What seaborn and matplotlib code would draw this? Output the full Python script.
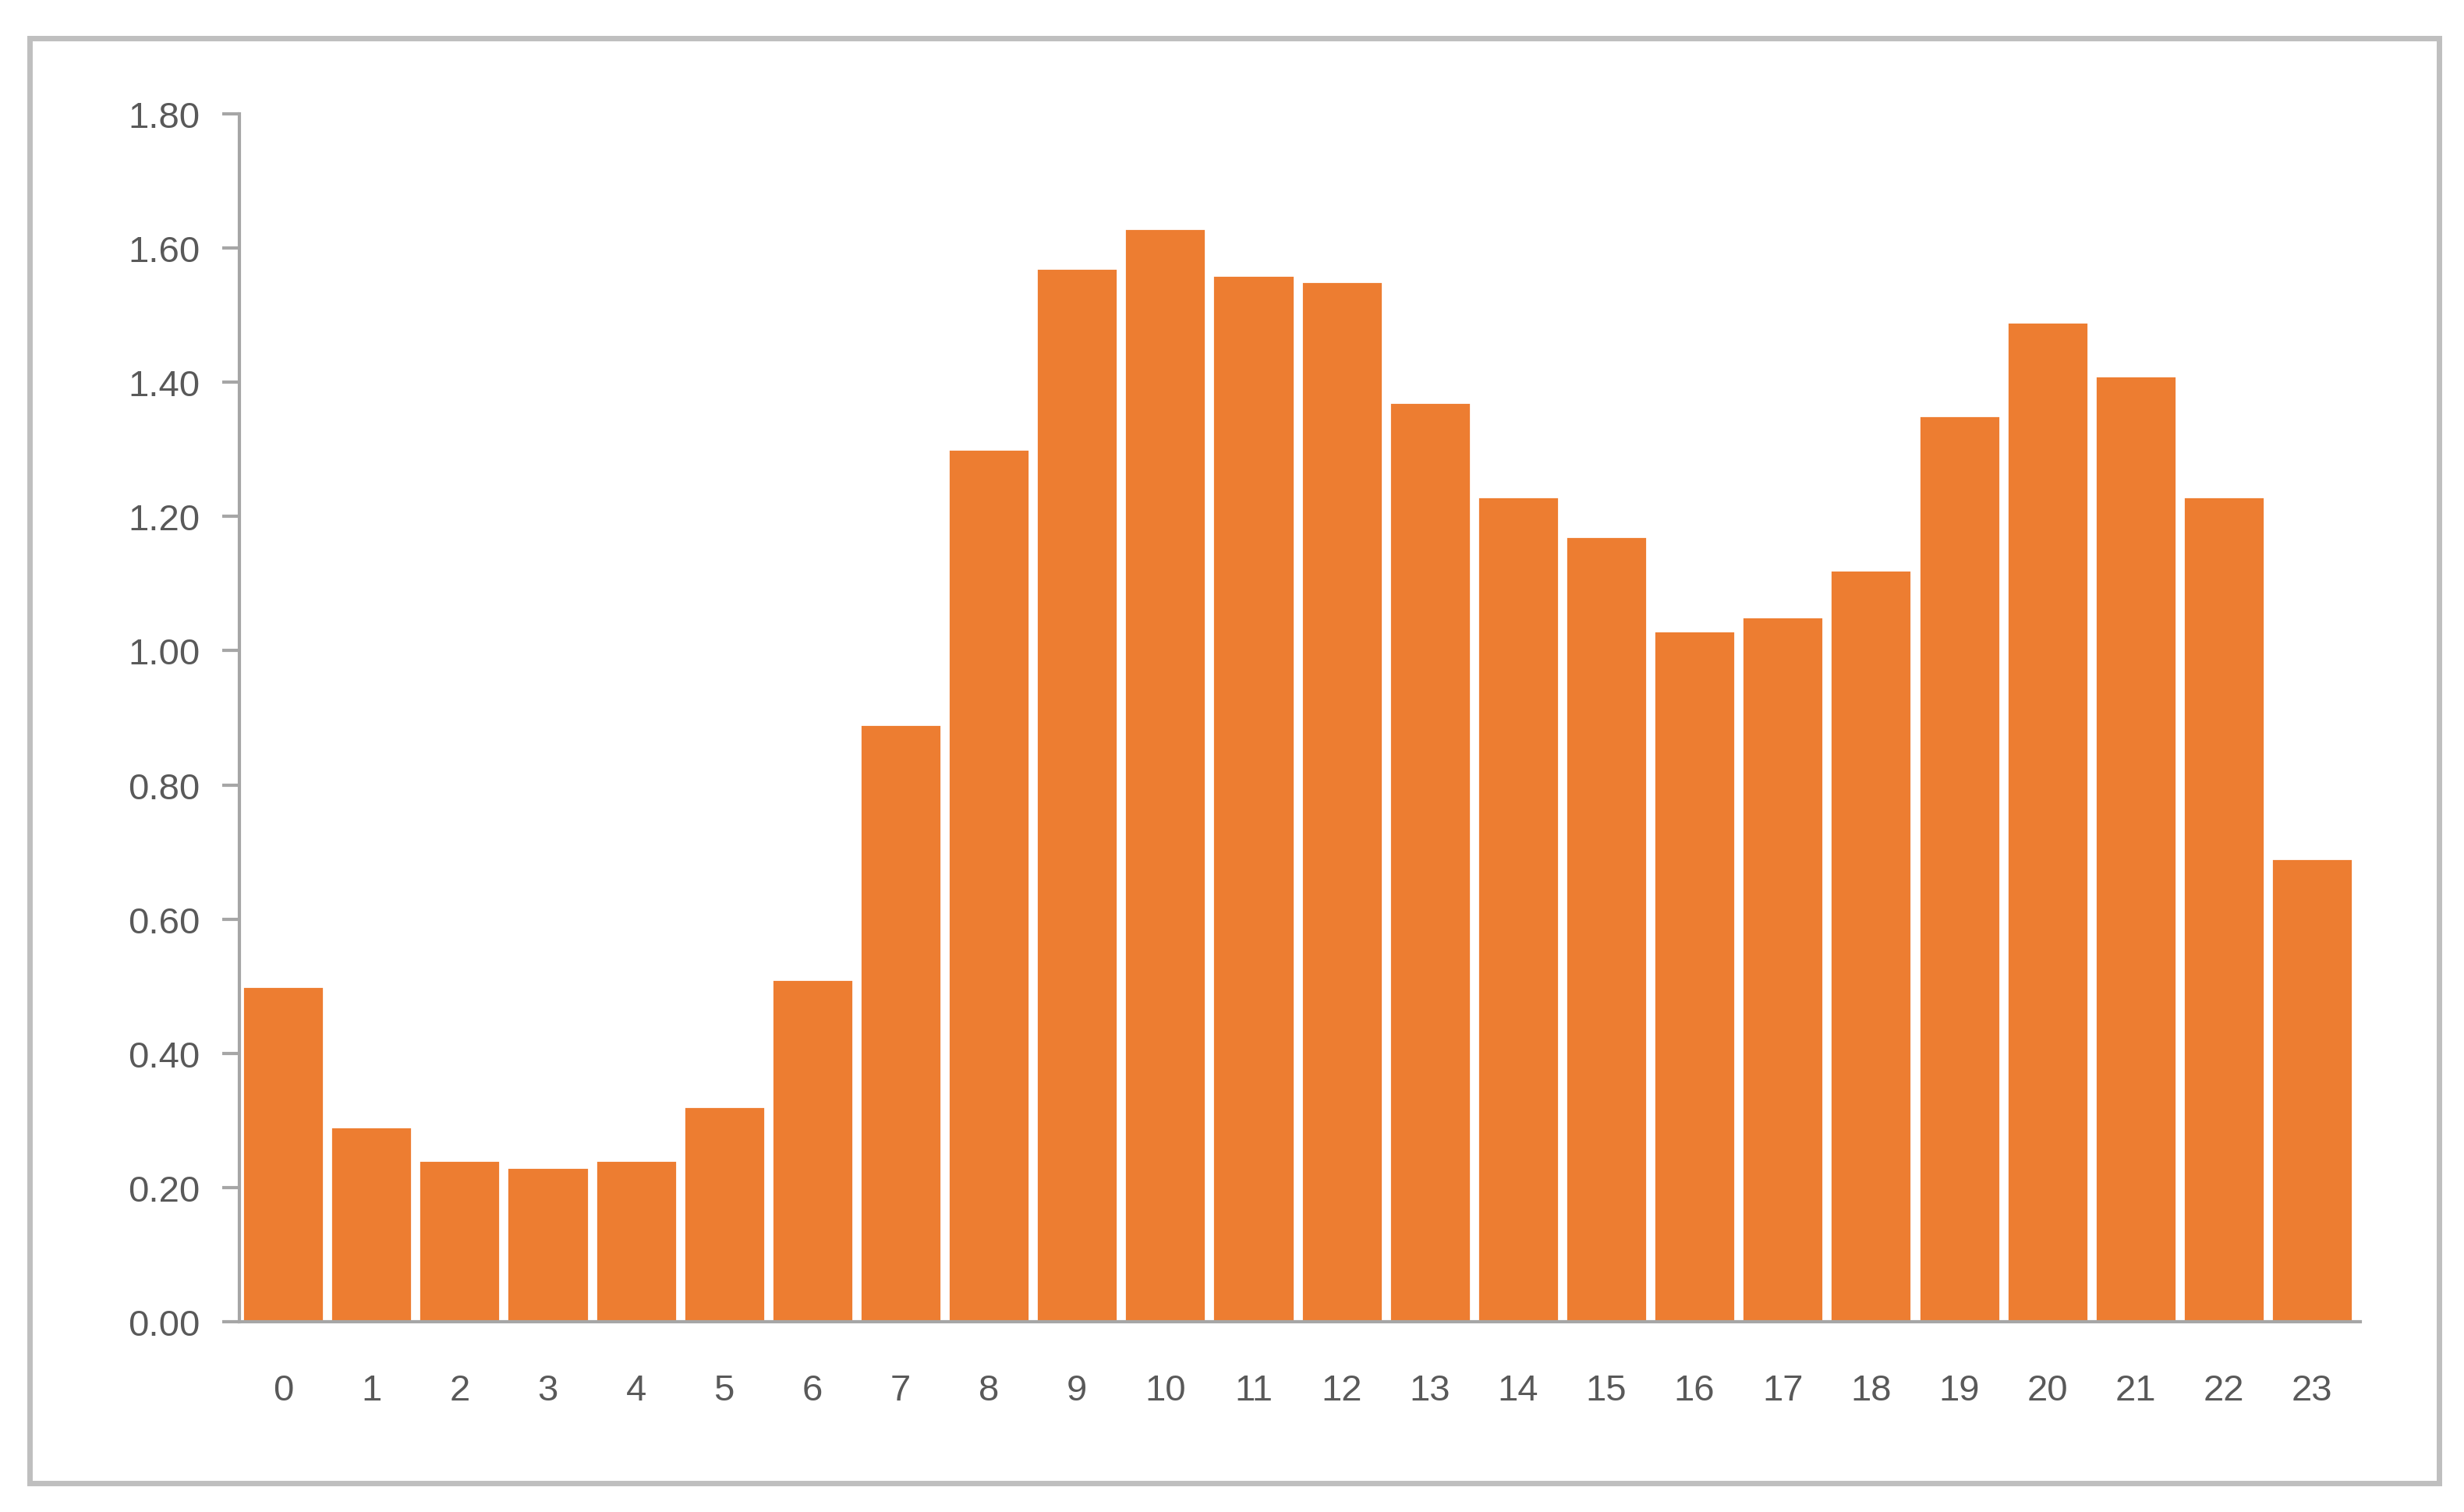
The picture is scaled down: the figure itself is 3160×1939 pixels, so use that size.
import matplotlib
matplotlib.use("Agg")
import matplotlib.pyplot as plt
import seaborn as sns
import pandas as pd
from matplotlib.patches import Rectangle

hours = [str(h) for h in range(24)]
values = [0.50, 0.29, 0.24, 0.23, 0.24, 0.32, 0.51, 0.89, 1.30, 1.57, 1.63, 1.56,
          1.55, 1.37, 1.23, 1.17, 1.03, 1.05, 1.12, 1.35, 1.49, 1.41, 1.23, 0.69]
yticks = [0, 0.2, 0.4, 0.6, 0.8, 1.0, 1.2, 1.4, 1.6, 1.8]

sns.set_theme(style="white")
plt.rcParams['font.family'] = ['Liberation Sans', 'DejaVu Sans']
df = pd.DataFrame({"hour": hours, "value": values})

fig = plt.figure(figsize=(15.8, 9.7), dpi=200)
fig.patches.append(Rectangle((0.012, 0.019), 0.978, 0.955, transform=fig.transFigure,
                             fill=False, edgecolor="#bfbfbf", linewidth=2.5))
ax = fig.add_axes([0.097, 0.126, 0.861, 0.798])
sns.barplot(data=df, x="hour", y="value", color="#ED7D31", saturation=1, width=0.92, ax=ax)
ax.set_xlim(-0.5, 23.55)
ax.set_ylim(0, 1.8)
ax.set_yticks(yticks)
ax.set_yticklabels([f"{t:.2f}" for t in yticks])
ax.set_xlabel("")
ax.set_ylabel("")
for s in ["top", "right"]:
    ax.spines[s].set_visible(False)
for s in ["left", "bottom"]:
    ax.spines[s].set_color("#a6a6a6")
    ax.spines[s].set_linewidth(1.5)
ax.tick_params(axis="y", left=True, length=8, width=1.5, color="#a6a6a6", labelsize=17, labelcolor="#595959", pad=10)
ax.tick_params(axis="x", bottom=False, labelsize=17, labelcolor="#595959", pad=18)
fig.savefig("out.png", dpi=200)
